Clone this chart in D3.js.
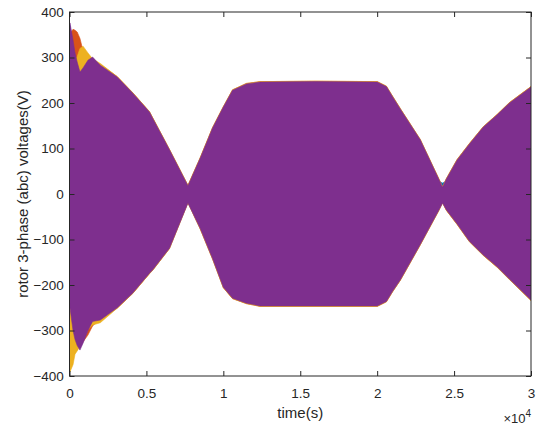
<!DOCTYPE html>
<html>
<head>
<meta charset="utf-8">
<script src="https://cdn.jsdelivr.net/npm/d3@7"></script>
<style>
  body { margin: 0; background: #fff; }
  svg { display: block; font-family: "Liberation Sans", Arial, sans-serif; }
</style>
</head>
<body>
<div id="chart"></div>
<script>

// time axis in units of 1e4 s
var timeGrid = [0, 0.003, 0.023, 0.036, 0.05, 0.068, 0.088, 0.12, 0.15, 0.2,
    0.31, 0.41, 0.52, 0.54, 0.65, 0.77, 0.85, 0.93, 1.0, 1.06,
    1.15, 1.24, 1.6, 2.0, 2.06, 2.1, 2.15, 2.28, 2.4, 2.425, 2.45, 2.52,
    2.6, 2.69, 2.78, 2.86, 3.0];

// envelope (max / min) of each rotor phase voltage, V
var blueHi = [355, 370, 330, 305, 288, 265, 274, 292, 297, 280,
    254, 219, 177, 164, 94, 16, 76, 142, 188, 225,
    239, 243, 244, 243, 233, 211, 184, 114, 28, 24, 28, 70,
    106, 144, 171, 197, 232];
var blueLo = [-235, -245, -295, -315, -328, -338, -322, -295, -275, -272,
    -246, -214, -170, -163, -115, -17, -72, -138, -201, -225,
    -236, -242, -242, -242, -232, -210, -185, -107, -34, -17, -30, -62,
    -100, -130, -156, -183, -229];

var orangeHi = [330, 352, 362, 360, 356, 342, 315, 298, 294, 285,
    258, 223, 181, 168, 98, 19, 80, 146, 192, 229,
    243, 247, 248, 247, 237, 215, 188, 120, 34, 16, 34, 76,
    111, 148, 175, 201, 236];
var orangeLo = [-200, -230, -290, -310, -325, -335, -325, -310, -290, -274,
    -251, -219, -175, -168, -120, -19, -77, -143, -206, -230,
    -241, -247, -247, -247, -237, -215, -190, -112, -37, -19, -36, -67,
    -105, -135, -161, -188, -234];

var yellowHi = [40, 300, 295, 292, 302, 320, 325, 310, 297, 287,
    258, 223, 181, 168, 98, 19, 80, 146, 192, 229,
    243, 247, 248, 247, 237, 215, 188, 120, 34, 16, 34, 76,
    111, 148, 175, 201, 236];
var yellowLo = [-385, -391, -375, -352, -345, -335, -320, -298, -288, -283,
    -251, -219, -175, -168, -120, -19, -77, -143, -206, -230,
    -241, -247, -247, -247, -237, -215, -190, -112, -37, -19, -36, -67,
    -105, -135, -161, -188, -234];

var purpleHi = [360, 376, 338, 310, 290, 268, 277, 294, 301, 283,
    257, 222, 180, 167, 97, 18, 79, 145, 191, 228,
    242, 246, 247, 246, 236, 214, 187, 119, 33, 15, 33, 75,
    110, 147, 174, 200, 235];
var purpleLo = [-240, -250, -300, -320, -333, -343, -328, -300, -280, -277,
    -250, -218, -174, -167, -119, -20, -76, -142, -205, -229,
    -240, -246, -246, -246, -236, -214, -189, -111, -36, -20, -35, -66,
    -104, -134, -160, -187, -233];

var xTicks = [0, 0.5, 1, 1.5, 2, 2.5, 3];
var yTicks = [-400, -300, -200, -100, 0, 100, 200, 300, 400];

var series = [
    { color: "#0072BD", hi: blueHi, lo: blueLo },
    { color: "#D95319", hi: orangeHi, lo: orangeLo },
    { color: "#EDB120", hi: yellowHi, lo: yellowLo },
    { color: "#7E2F8E", hi: purpleHi, lo: purpleLo }
];

var W = 539, H = 429;
var margin = { top: 12, right: 8, bottom: 53, left: 69.5 };
var width = W - margin.left - margin.right,
    height = H - margin.top - margin.bottom;

var textColor = "#262626";

var svg = d3.select("#chart").append("svg")
    .attr("width", W)
    .attr("height", H);

var g = svg.append("g")
    .attr("transform", "translate(" + margin.left + "," + margin.top + ")");

var x = d3.scaleLinear().domain([0, 3]).range([0, width]);
var y = d3.scaleLinear().domain([-400, 400]).range([height, 0]);

g.append("clipPath").attr("id", "clip")
    .append("rect").attr("width", width).attr("height", height);

var area = d3.area()
    .x(function (d) { return x(d.t); })
    .y0(function (d) { return y(d.lo); })
    .y1(function (d) { return y(d.hi); });

// plot in order, last phase ends on top
series.forEach(function (s) {
    var pts = timeGrid.map(function (t, i) {
        return { t: t, hi: s.hi[i], lo: s.lo[i] };
    });
    g.append("path")
        .datum(pts)
        .attr("clip-path", "url(#clip)")
        .attr("fill", s.color)
        .attr("stroke", s.color)
        .attr("stroke-width", 0.6)
        .attr("d", area);
});

// axes, ticks inside like matlab
var tickLen = 5;
var xAxis = g.append("g").attr("transform", "translate(0," + height + ")")
    .call(d3.axisBottom(x).tickValues(xTicks).tickSizeInner(-tickLen).tickSizeOuter(0)
        .tickFormat(function (d) { return d3.format("")(d); }));
var xAxisTop = g.append("g")
    .call(d3.axisTop(x).tickValues(xTicks).tickSizeInner(-tickLen).tickSizeOuter(0).tickFormat(""));
var yAxis = g.append("g")
    .call(d3.axisLeft(y).tickValues(yTicks).tickSizeInner(-tickLen).tickSizeOuter(0));
var yAxisRight = g.append("g").attr("transform", "translate(" + width + ",0)")
    .call(d3.axisRight(y).tickValues(yTicks).tickSizeInner(-tickLen).tickSizeOuter(0).tickFormat(""));

[xAxis, xAxisTop, yAxis, yAxisRight].forEach(function (a) {
    a.select(".domain").remove();
    a.selectAll("line").attr("stroke", textColor);
    a.selectAll("text")
        .attr("fill", textColor)
        .style("font-size", "13.5px")
        .style("font-family", "'Liberation Sans', Arial, sans-serif");
});
xAxis.selectAll("text").attr("y", 12).attr("dy", "0.71em");
yAxis.selectAll("text").attr("dx", "-0.2em");

g.append("rect")
    .attr("width", width)
    .attr("height", height)
    .attr("fill", "none")
    .attr("stroke", textColor)
    .attr("stroke-width", 1);

// labels
g.append("text")
    .attr("x", width / 2)
    .attr("y", height + 42)
    .attr("text-anchor", "middle")
    .attr("fill", textColor)
    .style("font-size", "15px")
    .text("time(s)");

g.append("text")
    .attr("transform", "translate(" + (23 - margin.left) + "," + (height / 2) + ") rotate(-90)")
    .attr("text-anchor", "middle")
    .attr("dy", "0.35em")
    .attr("fill", textColor)
    .style("font-size", "15px")
    .text("rotor 3-phase (abc) voltages(V)");

var expo = g.append("text")
    .attr("x", width)
    .attr("y", height + 47)
    .attr("text-anchor", "end")
    .attr("fill", textColor)
    .style("font-size", "13px");
expo.append("tspan").text("\u00d710");
expo.append("tspan").attr("dy", "-6").style("font-size", "10px").text("4");

</script>
</body>
</html>
